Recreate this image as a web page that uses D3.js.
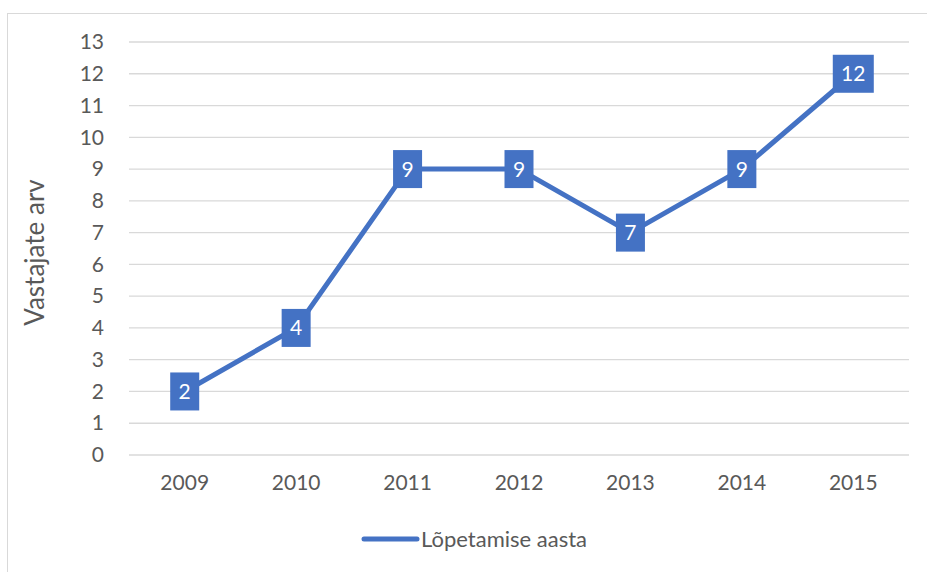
<!DOCTYPE html>
<html>
<head>
<meta charset="utf-8">
<script src="https://cdn.jsdelivr.net/npm/d3@7"></script>
<style>
  body { margin: 0; background: #fff; }
  text { font-family: Lato, "Open Sans", sans-serif; fill: #595959; }
</style>
</head>
<body>
<div id="chart"></div>
<script>
// data
var years = ["2009", "2010", "2011", "2012", "2013", "2014", "2015"];
var counts = [2, 4, 9, 9, 7, 9, 12];
var yTicks = [0, 1, 2, 3, 4, 5, 6, 7, 8, 9, 10, 11, 12, 13];
var seriesName = "Lõpetamise aasta";
var yTitle = "Vastajate arv";

var svgWidth = 927;
var svgHeight = 572;
var margin = { top: 42, right: 18, bottom: 117, left: 129 };
var width = svgWidth - margin.left - margin.right;
var height = svgHeight - margin.top - margin.bottom;
var blue = "#4472C4";

var svg = d3.select("#chart")
  .append("svg")
  .attr("width", svgWidth)
  .attr("height", svgHeight);

// chart border
svg.append("rect")
  .attr("x", 7.5).attr("y", 13.5)
  .attr("width", 940).attr("height", 600)
  .attr("fill", "none")
  .attr("stroke", "#d9d9d9")
  .attr("stroke-width", 1);

var chartGroup = svg.append("g")
  .attr("transform", `translate(${margin.left}, ${margin.top})`);

var xScale = d3.scaleBand().domain(years).range([0, width]);
var yScale = d3.scaleLinear().domain([0, 13]).range([height, 0]);

// gridlines
chartGroup.selectAll(".grid")
  .data(yTicks)
  .enter()
  .append("line")
  .attr("x1", 0).attr("x2", width)
  .attr("y1", d => yScale(d)).attr("y2", d => yScale(d))
  .attr("stroke", "#d9d9d9")
  .attr("stroke-width", 1.3);

// y axis
var leftAxis = d3.axisLeft(yScale).tickValues(yTicks).tickSize(0).tickPadding(25);
var gy = chartGroup.append("g").call(leftAxis);
gy.select(".domain").remove();
gy.selectAll("text").attr("font-size", 21).style("font-family", "Lato, sans-serif");

// x axis
var bottomAxis = d3.axisBottom(xScale).tickSize(0).tickPadding(20);
var gx = chartGroup.append("g")
  .attr("transform", `translate(0, ${height})`)
  .call(bottomAxis);
gx.select(".domain").remove();
gx.selectAll("text").attr("font-size", 21).style("font-family", "Lato, sans-serif");

// line
var line = d3.line()
  .x((d, i) => xScale(years[i]) + xScale.bandwidth() / 2)
  .y(d => yScale(d));

chartGroup.append("path")
  .datum(counts)
  .attr("d", line)
  .attr("fill", "none")
  .attr("stroke", blue)
  .attr("stroke-width", 5)
  .attr("stroke-linejoin", "round");

// data labels
var labels = chartGroup.selectAll(".lbl")
  .data(counts)
  .enter()
  .append("g")
  .attr("transform", (d, i) => `translate(${xScale(years[i]) + xScale.bandwidth() / 2}, ${yScale(d)})`);

labels.append("rect")
  .attr("x", d => d >= 10 ? -20.5 : -14.5)
  .attr("y", -19)
  .attr("width", d => d >= 10 ? 41 : 29)
  .attr("height", 38)
  .attr("fill", blue);

labels.append("text")
  .attr("text-anchor", "middle")
  .attr("dy", "0.36em")
  .attr("font-size", 21)
  .style("fill", "#fff")
  .text(d => d);

// y axis title
svg.append("text")
  .attr("transform", "rotate(-90)")
  .attr("x", -(margin.top + height / 2) - 4)
  .attr("y", 44)
  .attr("text-anchor", "middle")
  .attr("font-size", 26)
  .text(yTitle);

// legend
svg.append("line")
  .attr("x1", 364).attr("x2", 417)
  .attr("y1", 539).attr("y2", 539)
  .attr("stroke", blue)
  .attr("stroke-width", 5)
  .attr("stroke-linecap", "round");

svg.append("text")
  .attr("x", 421)
  .attr("y", 539)
  .attr("dy", "0.35em")
  .attr("font-size", 22)
  .text(seriesName);
</script>
</body>
</html>
